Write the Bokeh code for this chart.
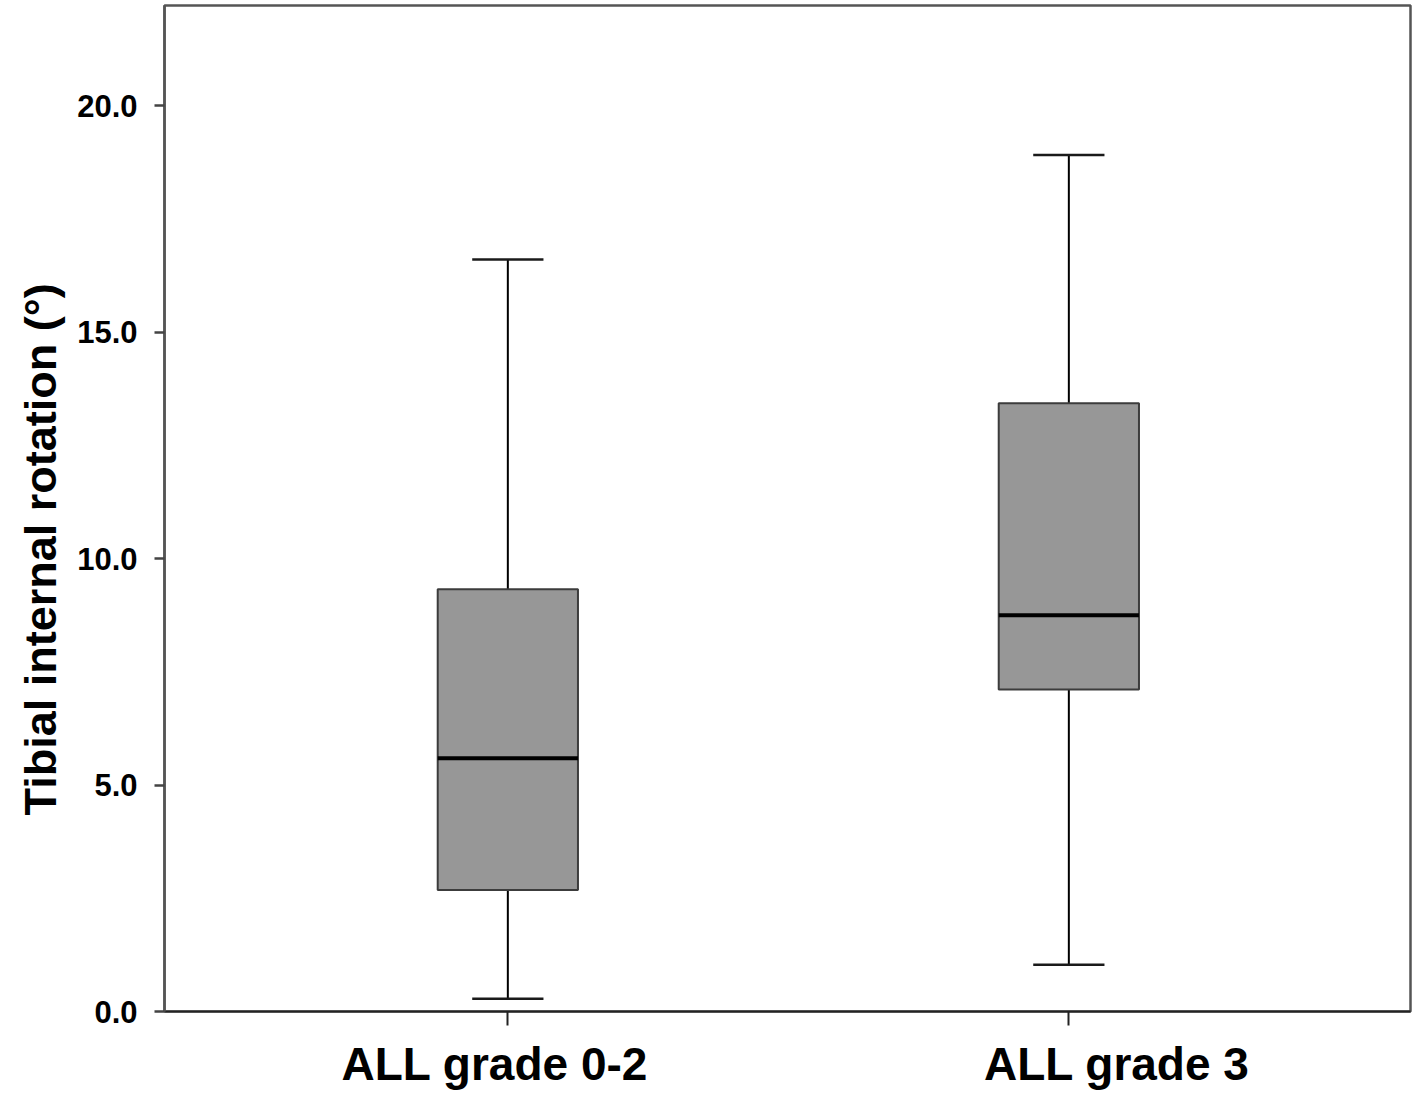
from bokeh.plotting import figure
from bokeh.models import Range1d, FixedTicker, NumeralTickFormatter, ColumnDataSource, Title, LinearAxis
from bokeh.embed import file_html
from bokeh.resources import INLINE

# Data
categories = ["ALL grade 0-2", "ALL grade 3"]
positions = [1, 2]
whisker_low = [0.28, 1.03]
q1 = [2.68, 7.11]
median = [5.59, 8.75]
q3 = [9.32, 13.43]
whisker_high = [16.60, 18.91]
y_ticks = [0, 5, 10, 15, 20]
y_title = "Tibial internal rotation (°)"

# layout/style constants
X0, X1, Y0, Y1 = 0.388, 2.609, 0.0, 22.21
FW, FH = 1246, 1006
box_w = 0.25
cap_w = 0.127
px_x = FW / (X1 - X0)
label_shift_px = [-13, 48]   # category labels sit slightly off their ticks in the reference

src = ColumnDataSource(dict(
    x=positions, low=whisker_low, q1=q1, med=median, q3=q3, high=whisker_high,
    bl=[p - box_w / 2 for p in positions], br=[p + box_w / 2 for p in positions],
    cl=[p - cap_w / 2 for p in positions], cr=[p + cap_w / 2 for p in positions],
))

p = figure(frame_width=FW, frame_height=FH,
           x_range=Range1d(X0, X1), y_range=Range1d(Y0, Y1),
           output_backend="svg", toolbar_location=None,
           min_border_left=164, min_border_right=6, min_border_top=5, min_border_bottom=0)

p.background_fill_color = "white"
p.border_fill_color = "white"
p.xgrid.visible = False
p.ygrid.visible = False
p.outline_line_color = "#555555"
p.outline_line_width = 2.5

# whiskers
p.segment(x0="x", y0="q3", x1="x", y1="high", source=src, line_color="black", line_width=2)
p.segment(x0="x", y0="q1", x1="x", y1="low", source=src, line_color="black", line_width=2)
# caps
p.segment(x0="cl", y0="high", x1="cr", y1="high", source=src, line_color="#1a1a1a", line_width=2.5)
p.segment(x0="cl", y0="low", x1="cr", y1="low", source=src, line_color="#1a1a1a", line_width=2.5)
# boxes
p.vbar(x="x", width=box_w, top="q3", bottom="q1", source=src,
       fill_color="#979797", line_color="#3c3c3c", line_width=2)
# medians
p.segment(x0="bl", y0="med", x1="br", y1="med", source=src, line_color="black", line_width=4)

# x axis: ticks only
p.xaxis.ticker = FixedTicker(ticks=positions)
p.xaxis.major_label_overrides = {pos: "" for pos in positions}
p.xaxis.major_label_text_font_size = "1px"
p.xaxis.major_label_standoff = 0
p.xaxis.major_tick_out = 14
p.xaxis.major_tick_in = 0
p.xaxis.minor_tick_line_color = None
p.xaxis.axis_line_color = "#222222"
p.xaxis.axis_line_width = 2
p.xaxis.major_tick_line_color = "#222222"
p.xaxis.major_tick_line_width = 2

# x axis: category labels
label_pos = [pos + s / px_x for pos, s in zip(positions, label_shift_px)]
lab_axis = LinearAxis(ticker=FixedTicker(ticks=label_pos),
                      major_label_overrides={lp: cat for lp, cat in zip(label_pos, categories)})
lab_axis.axis_line_color = None
lab_axis.major_tick_line_color = None
lab_axis.minor_tick_line_color = None
lab_axis.major_tick_out = 0
lab_axis.major_tick_in = 0
lab_axis.major_label_standoff = 12
lab_axis.major_label_text_font = "Liberation Sans"
lab_axis.major_label_text_font_style = "bold"
lab_axis.major_label_text_font_size = "46px"
lab_axis.major_label_text_color = "black"
p.add_layout(lab_axis, "below")

# y axis
p.yaxis.ticker = FixedTicker(ticks=y_ticks)
p.yaxis.formatter = NumeralTickFormatter(format="0.0")
p.yaxis.major_label_text_font = "Liberation Sans"
p.yaxis.major_label_text_font_style = "bold"
p.yaxis.major_label_text_font_size = "31px"
p.yaxis.major_label_text_color = "black"
p.yaxis.major_tick_out = 10
p.yaxis.major_tick_in = 0
p.yaxis.major_label_standoff = 17
p.yaxis.minor_tick_line_color = None
p.yaxis.axis_line_color = "#555555"
p.yaxis.axis_line_width = 2.5
p.yaxis.major_tick_line_color = "#444444"
p.yaxis.major_tick_line_width = 2.5

# y-axis title
p.add_layout(Title(text=y_title, align="left", offset=196, standoff=18,
                   text_font="Liberation Sans", text_font_style="bold",
                   text_font_size="45px", text_color="black"), "left")

open("out.html", "w").write(file_html(p, INLINE))
